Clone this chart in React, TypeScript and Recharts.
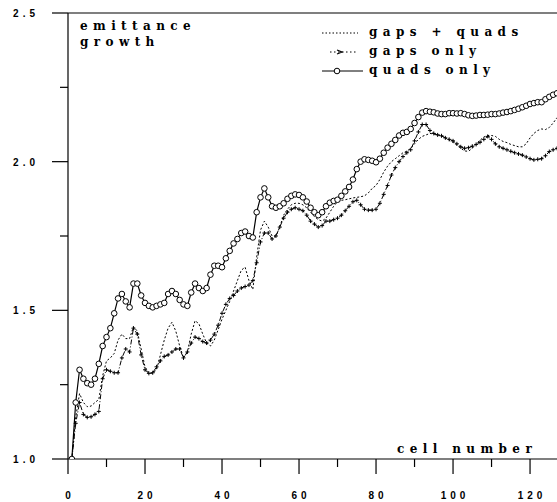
import { Legend, Line, LineChart, ReferenceLine, XAxis, YAxis } from "recharts";

// cell index 1..127
const cells = Array.from({ length: 127 }, (_, i) => i + 1);

const quadsOnly = [
  1.0, 1.19, 1.3, 1.27, 1.255, 1.25, 1.27, 1.32, 1.38, 1.41,
  1.44, 1.49, 1.54, 1.555, 1.53, 1.51, 1.59, 1.59, 1.55, 1.525,
  1.515, 1.51, 1.515, 1.52, 1.525, 1.555, 1.565, 1.555, 1.535, 1.52,
  1.515, 1.56, 1.59, 1.575, 1.565, 1.575, 1.62, 1.65, 1.65, 1.645,
  1.675, 1.7, 1.725, 1.74, 1.76, 1.765, 1.75, 1.745, 1.83, 1.88,
  1.91, 1.88, 1.85, 1.845, 1.85, 1.86, 1.875, 1.885, 1.89, 1.888,
  1.88, 1.866, 1.845, 1.83, 1.82, 1.83, 1.85, 1.862, 1.868, 1.872,
  1.885, 1.9, 1.915, 1.94, 1.975, 2.0, 2.008, 2.006, 2.003, 1.998,
  2.01, 2.03, 2.047, 2.06, 2.073, 2.088, 2.097, 2.1, 2.11, 2.13,
  2.15, 2.165, 2.17, 2.168, 2.166, 2.162, 2.16, 2.16, 2.163, 2.163,
  2.162, 2.163, 2.16, 2.156, 2.154, 2.155, 2.157, 2.157, 2.158, 2.16,
  2.16, 2.162, 2.165, 2.167, 2.17, 2.174, 2.178, 2.183, 2.188, 2.194,
  2.197, 2.2, 2.2, 2.21, 2.218, 2.225, 2.23
];

const gapsPlusQuads = [
  1.0, 1.14, 1.22, 1.19, 1.176, 1.178, 1.19, 1.2, 1.28, 1.33,
  1.34, 1.355, 1.4, 1.42, 1.405, 1.405, 1.445, 1.43, 1.37, 1.31,
  1.29, 1.288, 1.3, 1.35, 1.4, 1.44, 1.46, 1.43, 1.38, 1.34,
  1.36, 1.42, 1.465, 1.455, 1.42, 1.39, 1.38, 1.4, 1.435, 1.47,
  1.5, 1.53, 1.565, 1.6, 1.635, 1.645, 1.6, 1.57, 1.68, 1.77,
  1.8, 1.78, 1.75, 1.75, 1.78, 1.82, 1.84, 1.855, 1.86, 1.86,
  1.855, 1.845, 1.83, 1.815, 1.805, 1.8, 1.81, 1.83, 1.85, 1.865,
  1.87, 1.872, 1.875, 1.878, 1.88, 1.882, 1.885, 1.895, 1.91, 1.92,
  1.94, 1.965, 1.985, 2.0, 2.01, 2.02, 2.03, 2.035, 2.045, 2.06,
  2.075, 2.085, 2.09, 2.095, 2.093, 2.09, 2.087, 2.08, 2.072, 2.065,
  2.056, 2.045, 2.036, 2.035, 2.045, 2.06, 2.072, 2.083, 2.088, 2.088,
  2.085, 2.075, 2.068, 2.064, 2.058, 2.054, 2.05, 2.05, 2.06, 2.08,
  2.095, 2.105, 2.11, 2.108, 2.115, 2.13, 2.148
];

const gapsOnly = [
  1.0, 1.12, 1.19, 1.15, 1.14, 1.142, 1.15, 1.16, 1.27, 1.3,
  1.295, 1.29, 1.29, 1.34, 1.37, 1.36, 1.44, 1.42, 1.35, 1.3,
  1.288, 1.29, 1.31, 1.33, 1.345, 1.35, 1.36, 1.37, 1.37, 1.34,
  1.36, 1.39, 1.41, 1.405, 1.395, 1.39, 1.4, 1.42, 1.45, 1.49,
  1.52, 1.54, 1.55, 1.565, 1.575, 1.58, 1.585, 1.6, 1.66, 1.73,
  1.76, 1.76, 1.74, 1.75, 1.78, 1.81, 1.83, 1.84, 1.845, 1.84,
  1.835, 1.82, 1.8, 1.79, 1.78, 1.785, 1.8, 1.8, 1.805, 1.81,
  1.82, 1.835, 1.85, 1.865, 1.87, 1.855, 1.84, 1.837, 1.837, 1.84,
  1.86, 1.89, 1.92, 1.955, 1.98, 2.0, 2.017, 2.03, 2.04, 2.07,
  2.1, 2.125, 2.125, 2.105, 2.095, 2.09, 2.087, 2.08, 2.075, 2.07,
  2.06, 2.05, 2.045, 2.047, 2.052, 2.058, 2.065, 2.075, 2.085, 2.075,
  2.06, 2.05, 2.045, 2.04, 2.035, 2.03, 2.026, 2.022, 2.016, 2.01,
  2.006, 2.008, 2.01, 2.02, 2.034, 2.04, 2.045
];

const xTicks = [0, 10, 20, 30, 40, 50, 60, 70, 80, 90, 100, 110, 120];
const yTicks = [1, 1.25, 1.5, 1.75, 2, 2.25, 2.5];

const data = cells.map((cell, i) => ({
  cell,
  both: gapsPlusQuads[i],
  gaps: gapsOnly[i],
  quads: quadsOnly[i]
}));

const tickFont = { fontFamily: "Liberation Sans", fontSize: 10, fontWeight: 700, letterSpacing: 4 };
const textFont = { fontFamily: "DejaVu Serif", fontSize: 12, fontWeight: 700, letterSpacing: 5.4 };

function XTick({ x, y, payload }: any) {
  const major = payload.value % 20 === 0;
  return (
    <g>
      <line x1={x} x2={x} y1={y} y2={y + (major ? 15 : 8)} stroke="#000" strokeWidth={1.2} />
      {major && (
        <text x={x + 2} y={y + 40} textAnchor="middle" fill="#000" {...tickFont}>
          {payload.value}
        </text>
      )}
    </g>
  );
}

function YTick({ x, y, payload }: any) {
  const major = Math.abs(payload.value * 2 - Math.round(payload.value * 2)) < 1e-6;
  return (
    <g>
      <line x1={x - (major ? 16 : 8)} x2={x} y1={y} y2={y} stroke="#000" strokeWidth={1.2} />
      {major && (
        <text x={39} y={y + 4} textAnchor="end" fill="#000" {...tickFont}>
          {payload.value.toFixed(1)}
        </text>
      )}
    </g>
  );
}

function CrossDot(props: any) {
  const { cx, cy, index } = props;
  if (cx == null || cy == null) return <g key={index} />;
  return <path key={index} d={`M${cx - 2},${cy}h4M${cx},${cy - 2}v4`} stroke="#000" strokeWidth={1} fill="none" />;
}

function LegendBox() {
  return (
    <svg width={235} height={62} style={{ display: "block" }}>
      <line x1={4} x2={40} y1={13} y2={13} stroke="#000" strokeWidth={1} strokeDasharray="1.5 2" />
      <text x={51} y={16} fill="#000" {...textFont}>gaps + quads</text>
      <line x1={12} x2={40} y1={32} y2={32} stroke="#000" strokeWidth={1} strokeDasharray="1.5 2.5" />
      <path d="M19,30 l5,2 l-5,2" stroke="#000" strokeWidth={1.2} fill="none" />
      <text x={51} y={35} fill="#000" {...textFont}>gaps only</text>
      <line x1={4} x2={45} y1={51} y2={51} stroke="#000" strokeWidth={1} />
      <circle cx={19} cy={51} r={2.8} stroke="#000" strokeWidth={1} fill="#fff" />
      <text x={51} y={54} fill="#000" {...textFont}>quads only</text>
    </svg>
  );
}

export default function App() {
  return (
    <div style={{ position: "absolute", left: 0, top: 0, width: 557, height: 502, background: "#fff" }}>
      <LineChart width={557} height={502} data={data} margin={{ top: 13, right: 0, left: 0, bottom: 0 }}>
        <XAxis
          dataKey="cell"
          type="number"
          domain={[0, 127]}
          ticks={xTicks}
          interval={0}
          height={43}
          tickSize={0}
          tickMargin={0}
          tickLine={false}
          axisLine={{ stroke: "#000", strokeWidth: 1.2 }}
          tick={<XTick />}
          allowDataOverflow
        />
        <YAxis
          type="number"
          domain={[1, 2.5]}
          ticks={yTicks}
          interval={0}
          width={68}
          tickSize={0}
          tickMargin={0}
          tickLine={false}
          axisLine={{ stroke: "#000", strokeWidth: 1.2 }}
          tick={<YTick />}
          allowDataOverflow
        />
        <ReferenceLine y={2.5} stroke="#000" strokeWidth={1.2} />
        <Legend
          layout="horizontal"
          verticalAlign="middle"
          align="center"
          wrapperStyle={{ left: 318, top: 20, width: 235, height: 62 }}
          content={() => <LegendBox />}
        />
        <Line
          dataKey="gaps"
          name="gaps only"
          type="linear"
          stroke="#000"
          strokeWidth={1}
          strokeDasharray="5 2 1 2"
          dot={CrossDot}
          isAnimationActive={false}
        />
        <Line
          dataKey="both"
          name="gaps + quads"
          type="linear"
          stroke="#000"
          strokeWidth={1}
          strokeDasharray="2 2"
          dot={false}
          isAnimationActive={false}
        />
        <Line
          dataKey="quads"
          name="quads only"
          type="linear"
          stroke="#000"
          strokeWidth={1.2}
          dot={{ r: 2.8, stroke: "#000", strokeWidth: 1, fill: "#fff" }}
          isAnimationActive={false}
        />
      </LineChart>
      <svg width={557} height={502} style={{ position: "absolute", left: 0, top: 0, pointerEvents: "none" }}>
        <text x={80} y={30} fill="#000" {...textFont}>emittance</text>
        <text x={80} y={46} fill="#000" {...textFont}>growth</text>
        <text x={397} y={453} fill="#000" {...textFont}>cell number</text>
      </svg>
    </div>
  );
}
